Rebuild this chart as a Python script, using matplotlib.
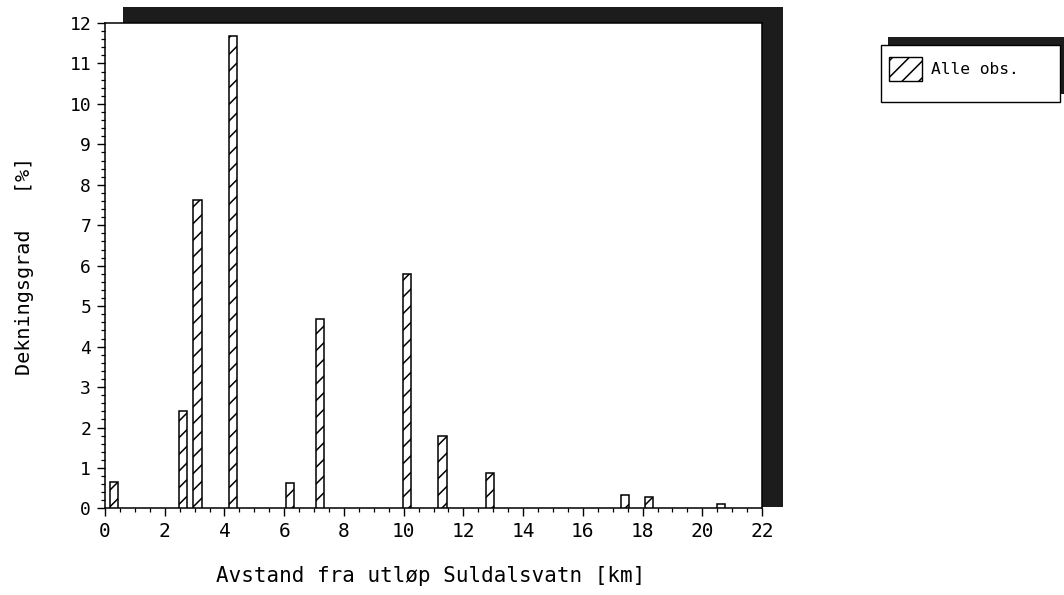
import numpy as np
import matplotlib
matplotlib.use("Agg")
import matplotlib.pyplot as plt
from matplotlib.patches import Rectangle
from matplotlib.ticker import MultipleLocator

# ------------------------------------------------------------------ data
avstand = [0.31, 2.61, 3.10, 4.29, 6.19, 7.20, 10.12, 11.30, 12.90, 17.42, 18.21, 20.63]
dekning = [0.66, 2.40, 7.63, 11.68, 0.62, 4.68, 5.80, 1.80, 0.88, 0.33, 0.28, 0.10]
BAR_W = 0.28
XLABEL = "Avstand fra utløp Suldalsvatn [km]"
YLABEL = "Dekningsgrad   [%]"
LEGEND_LABEL = "Alle obs."

FONT = "DejaVu Sans Mono"
SHADOW = "#1c1c1c"

plt.rcParams['font.family'] = FONT
plt.rcParams['hatch.linewidth'] = 1.1

fig = plt.figure(figsize=(10.64, 5.95), dpi=100)
fig.patch.set_facecolor('white')

# skygge bak plottet
fig.patches.append(Rectangle((0.1156, 0.1479), 0.6203, 0.8403, transform=fig.transFigure,
                             facecolor=SHADOW, edgecolor='none', zorder=-1))

ax = fig.add_axes([0.0987, 0.1454, 0.6175, 0.816])
ax.set_facecolor('white')
ax.bar(avstand, dekning, width=BAR_W, color='white', edgecolor='black',
       linewidth=1.1, hatch='//', zorder=3)

ax.set_xlim(0, 22)
ax.set_ylim(0, 12)
ax.xaxis.set_major_locator(MultipleLocator(2))
ax.xaxis.set_minor_locator(MultipleLocator(0.5))
ax.yaxis.set_major_locator(MultipleLocator(1))
ax.yaxis.set_minor_locator(MultipleLocator(0.2))
ax.tick_params(which='major', direction='out', length=6, width=1.0, pad=4)
ax.tick_params(axis='x', which='major', labelsize=14)
ax.tick_params(axis='y', which='major', labelsize=13)
ax.tick_params(which='minor', direction='out', length=3, width=0.9)
for s in ax.spines.values():
    s.set_linewidth(1.1)

ax.set_xlabel(XLABEL, fontsize=15)
ax.set_ylabel(YLABEL, fontsize=14.5)
ax.xaxis.set_label_coords(0.496, -0.118)
ax.yaxis.set_label_coords(-0.108, 0.50)

# legende med skygge
fig.patches.append(Rectangle((0.8346, 0.842), 0.18, 0.0958, transform=fig.transFigure,
                             facecolor=SHADOW, edgecolor='none', zorder=1))
fig.patches.append(Rectangle((0.828, 0.8286), 0.1682, 0.0958, transform=fig.transFigure,
                             facecolor='white', edgecolor='black', linewidth=1.0, zorder=2))
fig.patches.append(Rectangle((0.8355, 0.8639), 0.031, 0.0403, transform=fig.transFigure,
                             facecolor='white', edgecolor='black', linewidth=1.0,
                             hatch='//', zorder=3))
fig.text(0.875, 0.884, LEGEND_LABEL, fontsize=11.7, va='center', ha='left', zorder=4)

fig.savefig("out.png", dpi=100)
